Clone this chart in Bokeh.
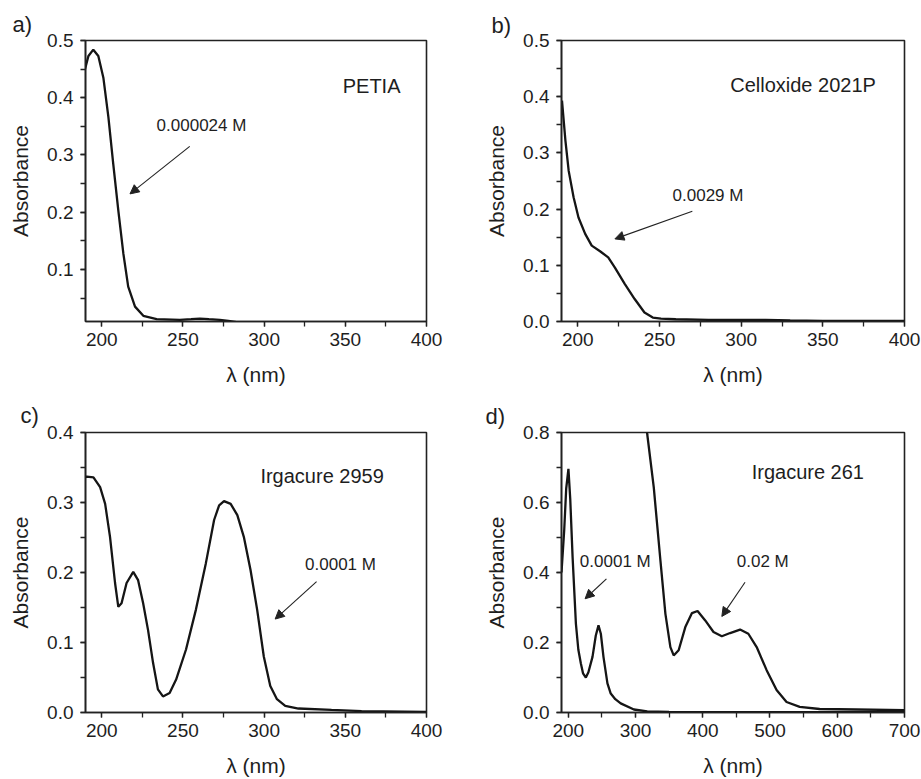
from bokeh.plotting import figure
from bokeh.layouts import gridplot
from bokeh.models import (Label, Arrow, NormalHead, SingleIntervalTicker,
                          PrintfTickFormatter, Range1d)
from bokeh.embed import file_html
from bokeh.resources import INLINE

FONT = "Liberation Sans"
TXT = "#1e1e1e"

# ---------------- data ----------------
# a) PETIA 0.000024 M
petia_x = [189.7, 191.8, 194.8, 197.9, 201, 204.1, 207.1, 210.2, 213.3, 216.3,
           220.5, 225.6, 233.8, 248.1, 255, 260.4, 266, 272.7, 278, 283]
petia_y = [0.450, 0.473, 0.484, 0.473, 0.435, 0.366, 0.284, 0.203, 0.128, 0.070,
           0.035, 0.019, 0.013, 0.012, 0.013, 0.014, 0.013, 0.012, 0.010, 0.008]

# b) Celloxide 2021P 0.0029 M
cel_x = [190.3, 192.4, 194.4, 197.4, 200.4, 204.5, 208.5, 213.6, 218.6, 222.7,
         228.7, 234.8, 240.8, 245.9, 250.9, 260, 280, 300, 315, 330, 350, 400]
cel_y = [0.393, 0.322, 0.268, 0.221, 0.185, 0.156, 0.135, 0.125, 0.114, 0.096,
         0.067, 0.040, 0.016, 0.007, 0.005, 0.004, 0.003, 0.003, 0.003, 0.002,
         0.001, 0.001]

# c) Irgacure 2959 0.0001 M
irg2959_x = [190, 190.8, 194.9, 199, 202.1, 205.1, 208.2, 210.2, 212.2, 215.3,
             219.4, 222.4, 225.5, 228.5, 231.6, 234.6, 237.7, 241.8, 245.8,
             251.9, 258, 264.1, 269.2, 272.3, 275.3, 279.4, 283.5, 287.5, 291.6,
             295.7, 299.8, 303.8, 307.9, 313, 321.1, 341.5, 360, 400]
irg2959_y = [0.336, 0.337, 0.336, 0.322, 0.298, 0.251, 0.185, 0.151, 0.156, 0.185,
             0.201, 0.189, 0.156, 0.118, 0.071, 0.033, 0.023, 0.028, 0.047,
             0.090, 0.147, 0.213, 0.275, 0.296, 0.302, 0.298, 0.282, 0.251, 0.204,
             0.147, 0.080, 0.038, 0.019, 0.0094, 0.0057, 0.0037, 0.002, 0.001]

# d) Irgacure 261, 0.0001 M
irg261_lo_x = [190, 194, 197, 200.3, 203, 206.5, 211.4, 215, 218.8, 222, 226.2,
               230, 236.1, 241, 245, 248.5, 252.4, 258.3, 263.2, 270, 278, 297.7,
               317.5, 350, 400, 500, 600, 700]
irg261_lo_y = [0.400, 0.520, 0.640, 0.696, 0.610, 0.444, 0.254, 0.180, 0.140,
               0.112, 0.100, 0.115, 0.159, 0.220, 0.249, 0.225, 0.159, 0.083,
               0.054, 0.038, 0.026, 0.0086, 0.003, 0.002, 0.001, 0.001, 0.001,
               0.001]
# d) Irgacure 261, 0.02 M
irg261_hi_x = [312, 317.5, 327.2, 337.1, 344.5, 351.9, 356.8, 364.2, 374.1, 384,
               392.3, 403.7, 416, 428.4, 440.7, 455.5, 467.8, 480.2, 495, 509.8,
               524.6, 544.2, 573.8, 628.1, 700]
irg261_hi_y = [0.900, 0.795, 0.643, 0.434, 0.282, 0.187, 0.163, 0.178, 0.244,
               0.284, 0.290, 0.263, 0.230, 0.218, 0.227, 0.237, 0.225, 0.187,
               0.121, 0.064, 0.030, 0.016, 0.010, 0.0086, 0.0066]


def make(width, height, bl, br, bt, bb, xr, yr, xint, yint, letter, loff, lstand):
    p = figure(width=width, height=height, output_backend="svg",
               toolbar_location=None, x_range=Range1d(*xr), y_range=Range1d(*yr),
               min_border_left=bl, min_border_right=br, min_border_top=bt,
               min_border_bottom=bb, title=letter)
    p.title.text_font = FONT
    p.title.text_font_size = "22px"
    p.title.text_font_style = "normal"
    p.title.text_color = TXT
    p.title.align = "left"
    p.title.offset = loff
    p.title.standoff = lstand
    p.xgrid.visible = False
    p.ygrid.visible = False
    p.outline_line_color = "#222222"
    p.outline_line_width = 1.6
    p.outline_line_alpha = 1.0
    p.xaxis.ticker = SingleIntervalTicker(interval=xint, num_minor_ticks=2)
    p.yaxis.ticker = SingleIntervalTicker(interval=yint, num_minor_ticks=2)
    p.yaxis.formatter = PrintfTickFormatter(format="%.1f")
    for ax in (p.xaxis, p.yaxis):
        ax.axis_line_color = "#222222"
        ax.axis_line_width = 1.6
        ax.major_tick_line_color = "#222222"
        ax.minor_tick_line_color = "#222222"
        ax.major_tick_line_width = 1.3
        ax.minor_tick_line_width = 1.3
        ax.major_tick_in = 0
        ax.major_tick_out = 5
        ax.minor_tick_in = 0
        ax.minor_tick_out = 5
        ax.major_label_text_font = FONT
        ax.major_label_text_font_size = "19px"
        ax.major_label_text_color = TXT
        ax.axis_label_text_font = FONT
        ax.axis_label_text_font_size = "21px"
        ax.axis_label_text_font_style = "normal"
        ax.axis_label_text_color = TXT
    p.xaxis.axis_label = "λ (nm)"
    p.yaxis.axis_label = "Absorbance"
    p.xaxis.major_label_standoff = 6
    p.yaxis.major_label_standoff = 7
    p.xaxis.axis_label_standoff = 14
    p.yaxis.axis_label_standoff = 12
    p.background_fill_color = "white"
    p.border_fill_color = "white"
    return p


def txt(p, x, y, s, size, align="left", baseline="middle"):
    p.add_layout(Label(x=x, y=y, text=s, text_font=FONT, text_font_size=size,
                       text_color=TXT, text_align=align, text_baseline=baseline))


def arrow(p, x0, y0, x1, y1):
    p.add_layout(Arrow(x_start=x0, y_start=y0, x_end=x1, y_end=y1,
                       line_color="#222222", line_width=1.1,
                       end=NormalHead(size=9, fill_color="#222222",
                                      line_color="#222222", line_width=1)))


LW = 2.3
LC = "#151515"

# a)
pa = make(463, 390, 85, 35, 39, 68, (190, 400), (0.009, 0.5), 50, 0.1, "a)", -73, 8)
pa.line(petia_x, petia_y, line_width=LW, line_color=LC)
txt(pa, 348.4, 0.421, "PETIA", "20px")
txt(pa, 233.8, 0.351, "0.000024 M", "17px")
arrow(pa, 254.2, 0.315, 217.4, 0.232)

# b)
pb = make(458, 390, 94, 17, 40, 69, (190, 400), (0.0, 0.5), 50, 0.1, "b)", -70, 6)
pb.line(cel_x, cel_y, line_width=LW, line_color=LC)
txt(pb, 293.3, 0.42, "Celloxide 2021P", "20px")
txt(pb, 258.0, 0.225, "0.0029 M", "17px")
arrow(pb, 270.1, 0.196, 222.7, 0.147)

# c)
pc = make(463, 389, 82, 37, 42, 66, (190, 400), (0.0, 0.4), 50, 0.1, "c)", -65, 9)
pc.line(irg2959_x, irg2959_y, line_width=LW, line_color=LC)
txt(pc, 297.7, 0.338, "Irgacure 2959", "20px")
txt(pc, 325.2, 0.212, "0.0001 M", "17px")
arrow(pc, 332.3, 0.187, 306.8, 0.1335)

# d)
pd = make(458, 389, 98, 16, 42, 67, (190, 700), (0.0, 0.8), 100, 0.2, "d)", -76, 8)
pd.line(irg261_lo_x, irg261_lo_y, line_width=LW, line_color=LC)
pd.line(irg261_hi_x, irg261_hi_y, line_width=LW, line_color=LC)
txt(pd, 472.8, 0.686, "Irgacure 261", "20px")
txt(pd, 217.3, 0.432, "0.0001 M", "17px")
arrow(pd, 256.8, 0.382, 225.1, 0.325)
txt(pd, 450.6, 0.432, "0.02 M", "17px")
arrow(pd, 462.9, 0.372, 428.4, 0.2745)

grid = gridplot([[pa, pb], [pc, pd]], toolbar_location=None)

open("out.html", "w").write(file_html(grid, INLINE))
